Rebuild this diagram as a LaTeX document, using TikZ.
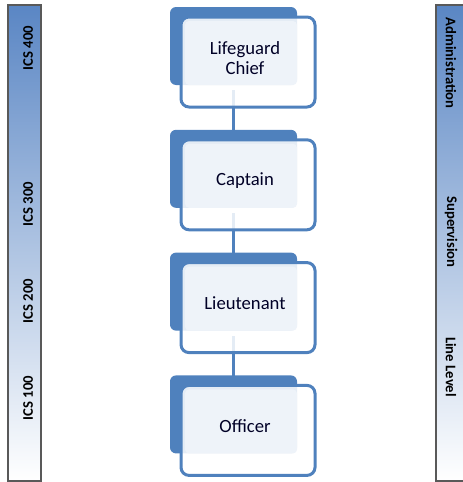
\documentclass[tikz,border=0pt]{standalone}
\usepackage{fontspec}
\setmainfont{Carlito}
\usepackage{xcolor}
\usetikzlibrary{positioning}
\usetikzlibrary{calc}
\usetikzlibrary{backgrounds}

\definecolor{rankblue}{HTML}{4F81BD}
\definecolor{ranklight}{HTML}{EEF3F9}
\definecolor{bandtop}{HTML}{5A86C4}

\begin{document}
\begin{tikzpicture}[x=0.75pt,y=-0.75pt,node distance=43.5pt,semithick]
 				 \tikzstyle{rank}=[minimum width=84pt, minimum height=48pt, inner sep=0pt, align=center, text=black!85!blue, font=\fontsize{14}{15}\selectfont]
 				 \tikzstyle{back}=[fill=rankblue, rounded corners=4.5pt]
 				 \tikzstyle{frame}=[draw=rankblue, line width=2.25pt, fill=white, fill opacity=0.85, rounded corners=6pt]
 				 \tikzstyle{face}=[fill=ranklight, rounded corners=3pt]
 				 \tikzstyle{link}=[draw=rankblue, line width=2.25pt]
 				 \tikzstyle{band}=[draw=black!65, line width=1.1pt, top color=bandtop, bottom color=white]
 				 \tikzstyle{tag}=[font=\fontsize{11}{12}\selectfont\bfseries, text=black]
				\useasboundingbox (0,0) rectangle (463,482);
				% side bands
				\path[band] (8,5) rectangle (41,481);
				\path[band] (436,5) rectangle (475,481);
				\node[tag, rotate=90] (i4) at (28,48) {ICS 400};
				\node[tag, rotate=90] (i3) at (28,204) {ICS 300};
				\node[tag, rotate=90] (i2) at (28,301) {ICS 200};
				\node[tag, rotate=90] (i1) at (28,398) {ICS 100};
				\node[tag, rotate=-90] (adm) at (451,63) {Administration};
				\node[tag, rotate=-90] (sup) at (451,232) {Supervision};
				\node[tag, rotate=-90] (lin) at (451,367) {Line Level};
				% ranks
 					 \node[rank]  (chief) at (245,58) {Lifeguard\\Chief};
 					 \node[rank]  (capt) [below=of chief] {Captain};
 					 \node[rank]  (lieut) [below=of capt] {Lieutenant};
 					 \node[rank]  (off) [below=of lieut] {Officer};
				\begin{scope}[on background layer]
				\path[link] ([xshift=-9pt]chief.south) -- ([xshift=-9pt]capt.north);
				\path[link] ([xshift=-9pt]capt.south) -- ([xshift=-9pt]lieut.north);
				\path[link] ([xshift=-9pt]lieut.south) -- ([xshift=-9pt]off.north);
				\foreach \r in {chief,capt,lieut,off}{
					\path[back] ($(\r)+(-75,-51)$) rectangle ($(\r)+(52,27)$);
					\path[frame] ($(\r)+(-64,-41)$) rectangle ($(\r)+(70,49)$);
					\path[face] ($(\r)+(-60,-37)$) rectangle ($(\r)+(52,27)$);
				}
				\end{scope}
\end{tikzpicture}
\end{document}
